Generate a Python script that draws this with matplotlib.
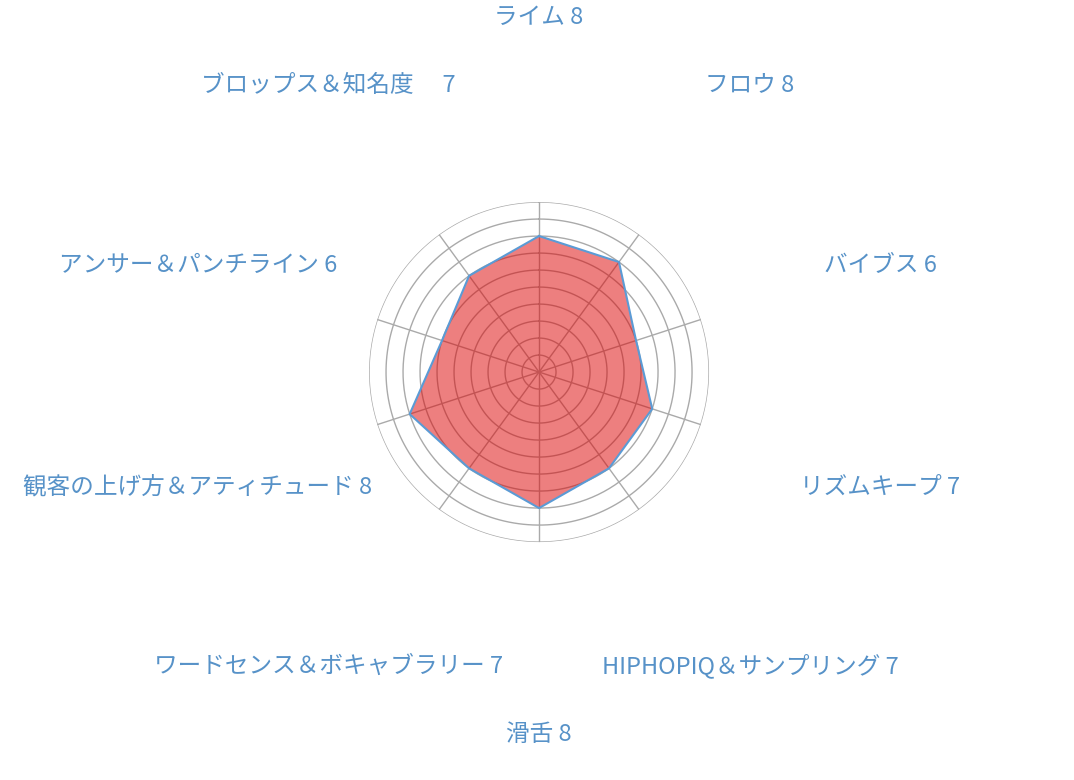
import numpy as np
import matplotlib
matplotlib.use("Agg")
import matplotlib.pyplot as plt
from matplotlib.transforms import offset_copy

plt.rcParams['font.family'] = ['Noto Sans CJK JP', 'DejaVu Sans']

labels = ["ライム 8", "フロウ 8", "バイブス 6", "リズムキープ 7",
          "HIPHOPIQ＆サンプリング 7", "滑舌 8", "ワードセンス＆ボキャブラリー 7",
          "観客の上げ方＆アティチュード 8", "アンサー＆パンチライン 6",
          "ブロップス＆知名度　 7"]
values = [8, 8, 6, 7, 7, 8, 7, 8, 6, 7]
rmax = 10

n = len(values)
theta = np.linspace(0, 2 * np.pi, n, endpoint=False)

fig = plt.figure(figsize=(10.74, 7.8), dpi=100)
ax = fig.add_axes([0.3436, 0.305, 0.3166, 0.436], projection='polar')
ax.set_theta_zero_location('N')
ax.set_theta_direction(-1)
ax.set_ylim(0, rmax)

# grid: rings and spokes
ax.grid(False)
ax.set_xticks([])
ax.set_yticks([])
ax.spines['polar'].set_visible(False)
ring_t = np.linspace(0, 2 * np.pi, 400)
for r in range(1, rmax + 1):
    ax.plot(ring_t, np.full_like(ring_t, r), color='#aaaaaa', lw=1, zorder=1)
for t in theta:
    ax.plot([t, t], [0, rmax], color='#aaaaaa', lw=1, zorder=1)

tt = np.append(theta, theta[0])
vv = np.append(values, values[0])
ax.fill(tt, vv, color='#dc0000', alpha=0.5, zorder=2, lw=0)
ax.plot(tt, vv, color='#5b9bd5', lw=1.5, zorder=3)

trans = offset_copy(ax.transData, fig=fig, x=0, y=-4, units='dots')
for t, lab in zip(theta, labels):
    ax.text(t, 21.1, lab, ha='center', va='center', fontsize=17,
            color='#5792c8', clip_on=False, transform=trans)

fig.savefig("out.png", dpi=100, facecolor='white')
